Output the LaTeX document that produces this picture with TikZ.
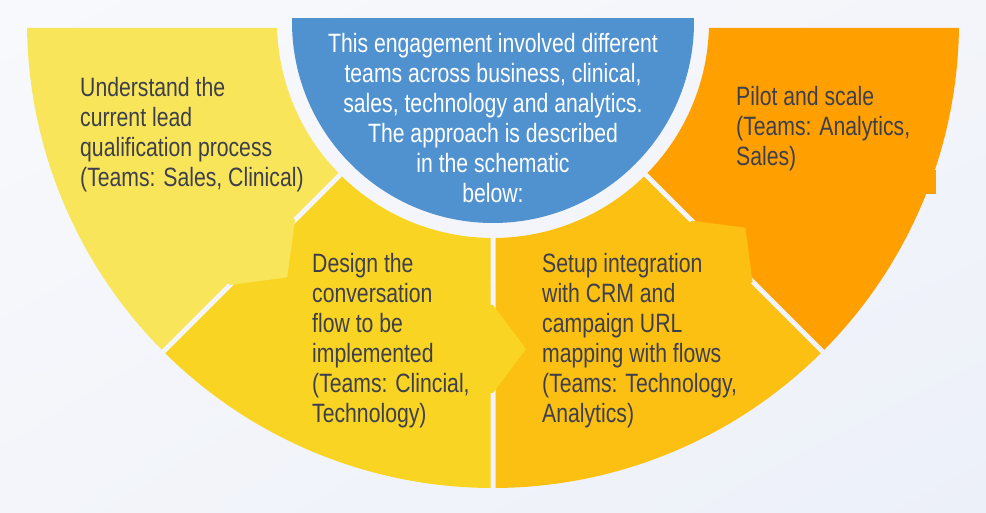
\documentclass[tikz,border=0pt]{standalone}
\usepackage{fontspec}
\newfontfamily\condfont{Liberation Sans}[FakeStretch=0.80]
\usetikzlibrary{calc,shadings}
\definecolor{sone}{HTML}{F9E55A}
\definecolor{stwo}{HTML}{F9D423}
\definecolor{sthree}{HTML}{FCC012}
\definecolor{sfour}{HTML}{FFA000}
\definecolor{blueC}{HTML}{5092D0}
\definecolor{textC}{HTML}{3D3F4C}
\definecolor{bgA}{HTML}{F8F9FC}
\definecolor{bgB}{HTML}{F3F5FA}
\definecolor{bgC}{HTML}{ECF0F9}
\begin{document}
\begin{tikzpicture}[x=1pt,y=1pt,
  txt/.style={font=\condfont\fontsize{26.5}{30}\selectfont, text=textC, align=left, inner sep=0pt, anchor=base west}]
\useasboundingbox (0,0) rectangle (986,512);
\shade[upper left=bgA, upper right=bgB, lower left=bgB, lower right=bgC] (0,0) rectangle (986,512);
\coordinate (C) at (493,490);
% ring sectors with gaps
\begin{scope}[even odd rule]
\clip (0,0) rectangle (986,484)
  (C) ++(225:100) ++(135:2.5) -- ++(225:420) -- ++(315:5) -- ++(45:420) -- cycle
  (C) ++(270:100) ++(180:2.5) -- ++(270:420) -- ++(0:5) -- ++(90:420) -- cycle
  (C) ++(315:100) ++(225:2.5) -- ++(315:420) -- ++(45:5) -- ++(135:420) -- cycle;
\fill[sone] ($(C)+(170:216)$) arc[start angle=170, end angle=225, radius=216] -- ($(C)+(225:466)$) arc[start angle=225, end angle=170, radius=466] -- cycle;
\fill[stwo] ($(C)+(225:216)$) arc[start angle=225, end angle=270, radius=216] -- ($(C)+(270:466)$) arc[start angle=270, end angle=225, radius=466] -- cycle;
\fill[sthree] ($(C)+(270:216)$) arc[start angle=270, end angle=315, radius=216] -- ($(C)+(315:466)$) arc[start angle=315, end angle=270, radius=466] -- cycle;
\fill[sfour] ($(C)+(315:216)$) arc[start angle=315, end angle=370, radius=216] -- ($(C)+(370:466)$) arc[start angle=370, end angle=315, radius=466] -- cycle;
\end{scope}
% arrow tabs
\fill[sone] ($(C)+(225:280)+(135:4)$) -- ($(C)+(225:280)$) -- ($(C)+(225:326)+(315:35)$) -- ($(C)+(225:372)$) -- ($(C)+(225:372)+(135:4)$) -- cycle;
\fill[stwo] ($(C)+(270:283)+(180:4)$) -- ($(C)+(270:283)$) -- ($(C)+(270:327)+(0:33)$) -- ($(C)+(270:371)$) -- ($(C)+(270:371)+(180:4)$) -- cycle;
\fill[sthree] ($(C)+(315:281)+(225:4)$) -- ($(C)+(315:281)$) -- ($(C)+(315:324)+(45:33)$) -- ($(C)+(315:367)$) -- ($(C)+(315:367)+(225:4)$) -- cycle;
% small notch on orange edge
\fill[sfour] (924,342) -- (936,342) -- (936,318) -- (924,318) -- cycle;
% blue half disc
\begin{scope}
\clip (0,0) rectangle (986,493);
\fill[blueC] (C) circle[radius=201];
\end{scope}
% texts (base anchor = baseline of last line)
\node[txt, text=white, align=center, anchor=base] (t0) at (493,309) {This engagement involved different\\teams across business, clinical,\\sales, technology and analytics.\\The approach is described\\in the schematic\\below:};
\node[txt] (t1) at (80,325) {Understand the\\current lead\\qualification process\\(Teams: Sales, Clinical)};
\node[txt] (t2) at (312,90) {Design the\\conversation\\flow to be\\implemented\\(Teams: Clincial,\\Technology)};
\node[txt] (t3) at (542,90) {Setup integration\\with CRM and\\campaign URL\\mapping with flows\\(Teams: Technology,\\Analytics)};
\node[txt] (t4) at (736,346) {Pilot and scale\\(Teams: Analytics,\\Sales)};
\end{tikzpicture}
\end{document}
